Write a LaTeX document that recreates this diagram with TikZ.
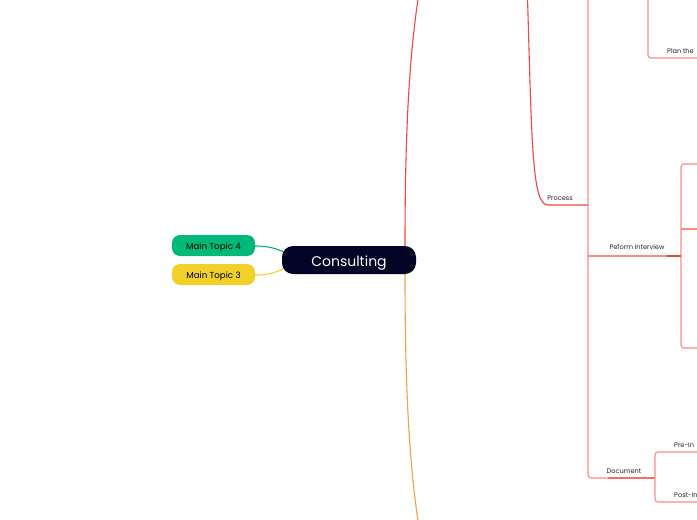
\documentclass[tikz,border=0pt]{standalone}
\usepackage{fontspec}
\setmainfont{Poppins}
\definecolor{navy}{RGB}{2,4,38}
\definecolor{mgreen}{RGB}{0,185,120}
\definecolor{myellow}{RGB}{242,208,42}
\definecolor{bred}{RGB}{240,72,62}
\definecolor{salmon}{RGB}{252,140,130}
\definecolor{borange}{RGB}{245,160,70}
\begin{document}
\begin{tikzpicture}[x=1pt,y=-1pt,
  central/.style={fill=navy,text=white,rounded corners=11pt,minimum width=134pt,minimum height=28pt,font=\fontsize{14}{16}\selectfont,inner sep=0pt,text height=12pt,text depth=0pt},
  topic/.style={rounded corners=8pt,minimum width=83pt,minimum height=21pt,font=\fontsize{8.7}{10}\selectfont,inner sep=0pt,text=black,text height=7.2pt,text depth=0pt},
  lbl/.style={font=\fontsize{6.6}{7}\selectfont,inner sep=1pt,text=black!85,anchor=south},
  redline/.style={draw=bred,line width=1.1pt},
  subline/.style={draw=salmon,line width=1.1pt,rounded corners=3pt}]
\useasboundingbox (0,0) rectangle (697,520);
\clip (0,0) rectangle (697,520);
\fill[white] (0,0) rectangle (697,520);

% coordinates
\coordinate (topred) at (421,-20);
\coordinate (botor) at (421,540);
\coordinate (proctop) at (527,-20);
\coordinate (vtop) at (588,-20);
\coordinate (plantop) at (648,-20);
\coordinate (procend) at (588,205);
\coordinate (perfstart) at (588,256);
\coordinate (perfend) at (681,256);
\coordinate (docstart) at (588,478);
\coordinate (docend) at (655,478);
\coordinate (pf1) at (697,164);
\coordinate (pf2) at (697,229);
\coordinate (pf3) at (697,348);
\coordinate (planend) at (697,58);
\coordinate (preend) at (697,452);
\coordinate (postend) at (697,502);

% connectors
\draw[redline] (405,247) .. controls (405,110) and (411,40) .. (topred);
\draw[draw=borange,line width=1.1pt] (405,273) .. controls (405,410) and (411,480) .. (botor);
\draw[mgreen,line width=1.1pt] (255,246) .. controls (272,246) and (280,250) .. (292,256);
\draw[myellow,line width=1.1pt] (255,275) .. controls (272,275) and (280,271) .. (292,264);

\draw[redline] (proctop) .. controls (532,150) and (532,205) .. (548,205) -- (procend);
\draw[subline] (vtop) -- (docstart) -- (docend);
\draw[subline] (perfstart) -- (perfend);
\draw[redline,draw=bred!80] (docstart) ++(20,0) -- (docend);
\draw[subline] (plantop) -- (648,58) -- (planend);
\draw[subline] (pf1) -- (681,164) -- (681,348) -- (pf3);
\draw[subline] (681,229) -- (pf2);
\draw[subline] (preend) -- (655,452) -- (655,502) -- (postend);
\draw[draw=bred,line width=1.1pt] (667,256) -- (perfend);

% nodes
\node[central] (consulting) at (349,260) {Consulting};
\node[topic,fill=mgreen] (mt4) at (213.5,245.5) {Main Topic 4};
\node[topic,fill=myellow] (mt3) at (213.5,274.5) {Main Topic 3};

\node[lbl] (process) at (560,202) {Process};
\node[lbl] (perform) at (637,251) {Peform Interview};
\node[lbl] (document) at (624,475) {Document};
\node[lbl,anchor=south west] (plan) at (666,55) {Plan the};
\node[lbl,anchor=south west] (pre) at (673,449) {Pre-In};
\node[lbl,anchor=south west] (post) at (673,499) {Post-In};
\end{tikzpicture}
\end{document}
